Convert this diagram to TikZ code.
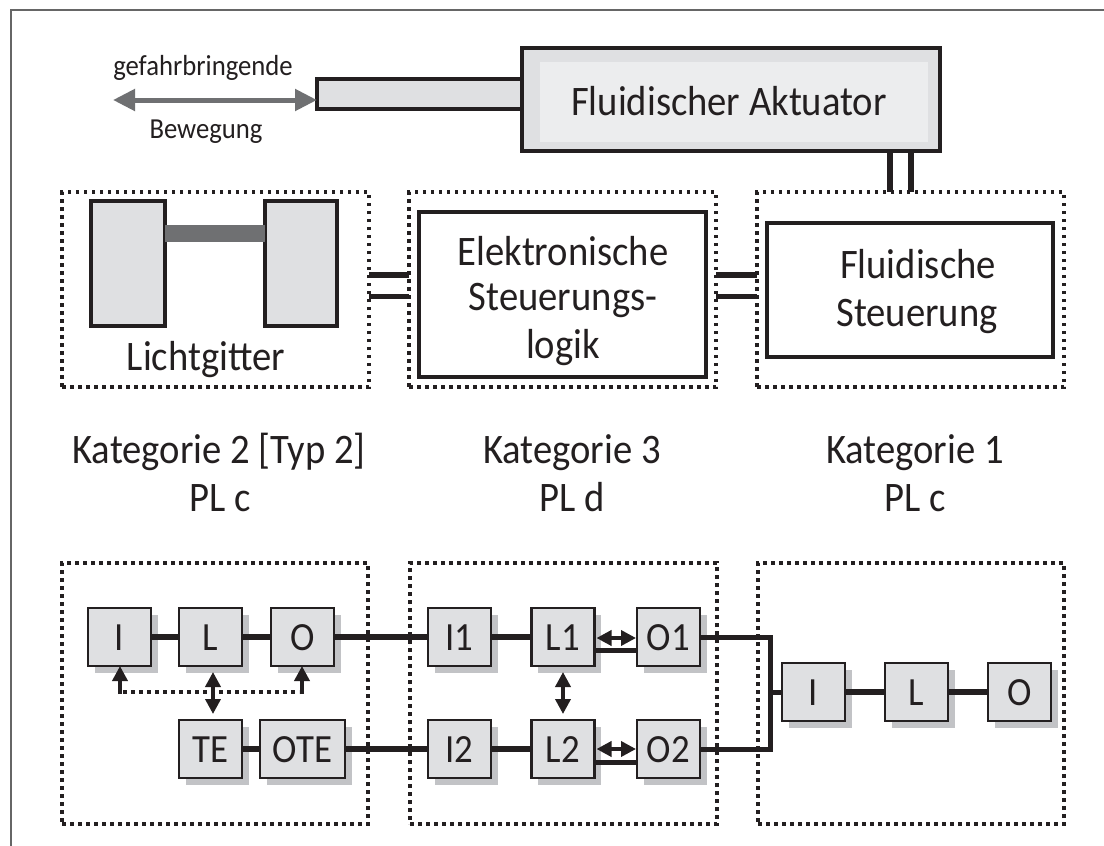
\documentclass[tikz,border=0pt]{standalone}
\usepackage{fontspec}
\setmainfont[FakeStretch=0.92]{Carlito}
\usetikzlibrary{arrows.meta,fit,shadows,calc}
\definecolor{ink}{HTML}{231F20}
\definecolor{blockfill}{HTML}{DFE0E2}
\definecolor{shade}{HTML}{C2C3C6}
\definecolor{beamgrey}{HTML}{6F7072}
\definecolor{innerfill}{HTML}{ECEDEE}
\definecolor{framegrey}{HTML}{666666}
\tikzset{
  plain/.style={fit={#1},inner sep=0pt,outer sep=0pt},
  solidbox/.style={draw=ink,line width=4pt},
  coarsedots/.style={draw=ink,line width=4pt,dash pattern=on 4pt off 4pt},
  finedots/.style={draw=ink,line width=3.5pt,dash pattern=on 3.5pt off 4.5pt},
  smallblock/.style={draw=ink,line width=2.2pt,fill=blockfill,inner sep=0pt,outer sep=0pt,
    minimum height=58pt,font=\fontsize{40}{40}\selectfont,text=ink,text height=27pt,text depth=0pt,
    general shadow={shadow xshift=6.5pt,shadow yshift=-6.5pt,fill=shade,draw=none}},
  wire/.style={draw=ink,line width=5.6pt},
  thinwire/.style={draw=ink,line width=5pt},
  both/.style={draw=ink,line width=3.6pt,{Triangle[length=15pt,width=15pt]}-{Triangle[length=15pt,width=15pt]}},
  uptip/.style={draw=ink,line width=3.6pt,-{Triangle[length=15pt,width=15pt]}},
  lbl/.style={text=ink,anchor=base,inner sep=0pt,font=\fontsize{#1}{#1}\selectfont},
  lbl/.default=42
}
\begin{document}
\begin{tikzpicture}[x=1pt,y=-1pt]
\useasboundingbox (0,0) rectangle (1104,846);
\fill[white] (0,0) rectangle (1104,846);
% frame
\coordinate (fbl) at (10.5,846);
\coordinate (ftl) at (10.5,10);
\coordinate (ftr) at (1104,10);
\draw[framegrey,line width=2pt] (fbl) -- (ftl) -- (ftr);
% actuator
\node[plain={(522,48)(940,151)},solidbox,fill=blockfill] (akt) {};
\node[plain={(540,62)(928,142)},fill=innerfill] (aktin) {};
\node[plain={(317,79)(522,109)},solidbox,fill=blockfill] (rod) {};
\node[lbl=42] (aktt) at (729,115) {Fluidischer Aktuator};
% motion
\coordinate (ml) at (113,100);
\draw[beamgrey,line width=5pt,{Triangle[length=22pt,width=21pt]}-{Triangle[length=22pt,width=21pt]}] (ml) -- (rod.west |- ml);
\node[lbl=29] (gef) at (203,75) {gefahrbringende};
\node[lbl=29] (bew) at (206,138) {Bewegung};
% upper dotted groups
\node[plain={(62,192)(369,387)},finedots] (ga) {};
\node[plain={(409,192)(716,387)},finedots] (gb) {};
\node[plain={(757,192)(1064,387)},finedots] (gc) {};
% light curtain
\node[plain={(91,201)(165,326)},solidbox,fill=blockfill] (lg1) {};
\node[plain={(265,201)(337,326)},solidbox,fill=blockfill] (lg2) {};
\node[plain={(165,225)(265,242)},fill=beamgrey] (beam) {};
\node[lbl] (lgt) at (206,370) {Lichtgitter};
% logic boxes
\node[plain={(419,212)(706,377)},solidbox] (elo) {};
\node[lbl] (el1) at (563,265) {Elektronische};
\node[lbl] (el2) at (563,310) {Steuerungs-};
\node[lbl] (el3) at (563,358) {logik};
\node[plain={(767,223)(1053,357)},solidbox] (flu) {};
\node[lbl] (fl1) at (918,278) {Fluidische};
\node[lbl] (fl2) at (917,326) {Steuerung};
% links between groups
\draw[wire] (ga.east |- 0,275) -- (gb.west |- 0,275);
\draw[thinwire] (ga.east |- 0,296) -- (gb.west |- 0,296);
\draw[wire] (gb.east |- 0,275) -- (gc.west |- 0,275);
\draw[thinwire] (gb.east |- 0,296) -- (gc.west |- 0,296);
\draw[wire] (890,0 |- akt.south) -- (890,0 |- gc.north);
\draw[wire] (911,0 |- akt.south) -- (911,0 |- gc.north);
% category labels
\node[lbl] (k2) at (219,463) {Kategorie 2 [Typ 2]};
\node[lbl] (p2) at (220,511) {PL c};
\node[lbl] (k3) at (572,463) {Kategorie 3};
\node[lbl] (p3) at (572,511) {PL d};
\node[lbl] (k1) at (915,463) {Kategorie 1};
\node[lbl] (p1) at (915,511) {PL c};
% lower dotted groups
\node[plain={(62,563)(368,824)},coarsedots] (ba) {};
\node[plain={(410,563)(717,824)},coarsedots] (bb) {};
\node[plain={(758,563)(1064,824)},coarsedots] (bc) {};
% feedback dotted line (below blocks)
\coordinate (fa) at (120,692);
\coordinate (fb) at (302,692);
% blocks
\foreach \n/\t/\cx/\cy/\w in {
  i/I/119.5/637/63, l/L/210.5/637/63, o/O/302.5/637/63,
  te/TE/210.5/749/63, ote/OTE/302.5/749/85,
  ia/I1/459.5/637/63, la/L1/563/637/63, oa/O1/668.5/637/63,
  ib/I2/459.5/749/63, lb/L2/563/749/63, ob/O2/668.5/749/63,
  ic/I/813.5/692/63, lc/L/916.5/692/63, oc/O/1019.5/692/63}{
  \node[smallblock,minimum width=\w pt] (\n) at (\cx,\cy) {\t};
}
% block wires
\draw[wire] (i) -- (l);
\draw[wire] (l) -- (o);
\draw[wire] (o) -- (ia);
\draw[wire] (ia) -- (la);
\draw[wire] (te) -- (ote);
\draw[wire] (ote) -- (ib);
\draw[wire] (ib) -- (lb);
\draw[wire] (ic) -- (lc);
\draw[wire] (lc) -- (oc);
\draw[wire] ([yshift=-13.5pt]la.east) -- ([yshift=-13.5pt]oa.west);
\draw[wire] ([yshift=-13.5pt]lb.east) -- ([yshift=-13.5pt]ob.west);
\coordinate (bus) at (770,692);
\draw[thinwire] (oa.east) -| (bus);
\draw[thinwire] (ob.east) -| (bus);
\draw[thinwire] (bus) -- (ic.west);
% double arrows
\draw[both,shorten >=1pt,shorten <=2pt] ([yshift=-1pt]la.east) -- ([yshift=-1pt]oa.west);
\draw[both,shorten >=1pt,shorten <=2pt] (lb.east) -- (ob.west);
\draw[both,shorten >=6pt,shorten <=6pt] (la.south) -- (lb.north);
\draw[both,shorten >=6pt,shorten <=6pt] ([xshift=2.5pt]l.south) -- ([xshift=2.5pt]te.north);
% feedback
\draw[draw=ink,line width=4pt,dash pattern=on 4pt off 4pt] ([xshift=3pt]fa) -- ([xshift=-3pt]fb);
\draw[uptip] ($(fa)+(0,2)$) -- (fa |- i.south);
\draw[uptip] ($(fb)+(0,2)$) -- (fb |- o.south);
\end{tikzpicture}
\end{document}
